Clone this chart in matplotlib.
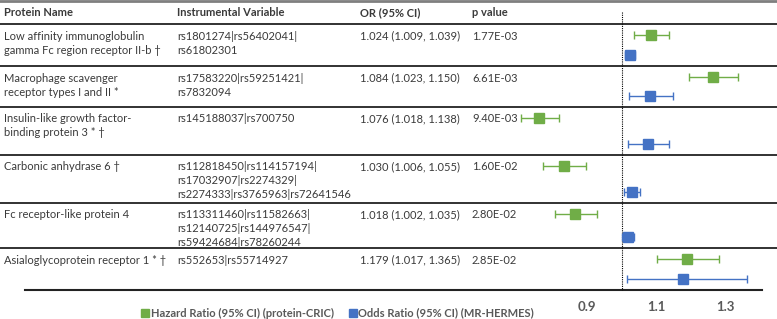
import matplotlib
matplotlib.use("Agg")
from matplotlib import pyplot as plt
from matplotlib.lines import Line2D

# table columns
proteins = [
    "Low affinity immunoglobulin\ngamma Fc region receptor II-b \u2020",
    "Macrophage scavenger\nreceptor types I and II *",
    "Insulin-like growth factor-\nbinding protein 3 * \u2020",
    "Carbonic anhydrase 6 \u2020",
    "Fc receptor-like protein 4",
    "Asialoglycoprotein receptor 1 * \u2020",
]
instruments = [
    "rs1801274|rs56402041|\nrs61802301",
    "rs17583220|rs59251421|\nrs7832094",
    "rs145188037|rs700750",
    "rs112818450|rs114157194|\nrs17032907|rs2274329|\nrs2274333|rs3765963|rs72641546",
    "rs113311460|rs11582663|\nrs12140725|rs144976547|\nrs59424684|rs78260244",
    "rs552653|rs55714927",
]
p_values = ["1.77E-03", "6.61E-03", "9.40E-03", "1.60E-02", "2.80E-02", "2.85E-02"]

# odds ratios (MR-HERMES)
odds = [1.024, 1.084, 1.076, 1.030, 1.018, 1.179]
odds_lo = [1.009, 1.023, 1.018, 1.006, 1.002, 1.017]
odds_hi = [1.039, 1.150, 1.138, 1.055, 1.035, 1.365]

# hazard ratios (protein-CRIC)
hazard = [1.086, 1.264, 0.762, 0.833, 0.866, 1.189]
hazard_lo = [1.036, 1.196, 0.708, 0.773, 0.806, 1.102]
hazard_hi = [1.138, 1.338, 0.820, 0.897, 0.928, 1.283]

ticks = [0.9, 1.1, 1.3]
headers = ["Protein Name", "Instrumental Variable", "OR (95% CI)", "p value"]

W, H = 777, 319
GREEN = "#70AD47"
BLUE = "#4472C4"
TXT = "#3a3a3a"
plt.rcParams["font.family"] = ["Lato", "DejaVu Sans"]

fig = plt.figure(figsize=(W / 100, H / 100), dpi=100)
ax = fig.add_axes([0, 0, 1, 1])
ax.axis("off")
# x data scale: 1.0 sits at pixel 621.5, 345 px per unit
x0, k = 621.5, 345.0
ax.set_xlim(1 - x0 / k, 1 + (W - x0) / k)
ax.set_ylim(H, 0)

def px(x):
    # pixel column -> data x
    return 1 + (x - x0) / k

row_lines = [24, 66, 107, 155, 203, 248, 290]
col_x = [4, 177, 360, 472]

# borders
ax.plot([px(0), px(W)], [1, 1], color="#7f7f7f", lw=2)
for y in row_lines[:-1]:
    ax.plot([px(0), px(W)], [y, y], color="#222222", lw=1.3)
ax.plot([px(25), px(762)], [290, 290], color="#222222", lw=1.5)
ax.plot([1.0, 1.0], [12, 290], color="black", lw=0.8, ls=(0, (1, 1)))

for x, h in zip(col_x, headers):
    ax.text(px(x), 13, h, fontsize=8, fontweight="bold", color=TXT, va="center")

for i in range(len(proteins)):
    top = row_lines[i]
    cells = [proteins[i], instruments[i],
             "%.3f (%.3f, %.3f)" % (odds[i], odds_lo[i], odds_hi[i]), p_values[i]]
    for x, cell in zip(col_x, cells):
        for j, line in enumerate(cell.split("\n")):
            ax.text(px(x), top + 12 + j * 14, line, fontsize=8, color=TXT, va="center")
    bottom = row_lines[i + 1]
    ax.errorbar(hazard[i], top + 11,
                xerr=[[hazard[i] - hazard_lo[i]], [hazard_hi[i] - hazard[i]]],
                fmt="s", color=GREEN, ms=6.5, elinewidth=1, capsize=3, capthick=1)
    ax.errorbar(odds[i], bottom - 11,
                xerr=[[odds[i] - odds_lo[i]], [odds_hi[i] - odds[i]]],
                fmt="s", color=BLUE, ms=6.5, elinewidth=1, capsize=3, capthick=1)

for t in ticks:
    ax.text(t, 307, "%.1f" % t, fontsize=9.5, fontweight="bold", color="#595959",
            ha="center", va="center")

handles = [Line2D([], [], marker="s", ls="", color=GREEN, ms=6),
           Line2D([], [], marker="s", ls="", color=BLUE, ms=6)]
fig.legend(handles, ["Hazard Ratio (95% CI) (protein-CRIC)", "Odds Ratio (95% CI) (MR-HERMES)"],
           loc="center", bbox_to_anchor=(337 / W, 1 - 313 / H), ncol=2, frameon=False,
           handletextpad=0.0, columnspacing=1.2, handlelength=1.0,
           prop={"weight": "bold", "size": 8}, labelcolor="#595959")

fig.savefig("out.png", dpi=100)
